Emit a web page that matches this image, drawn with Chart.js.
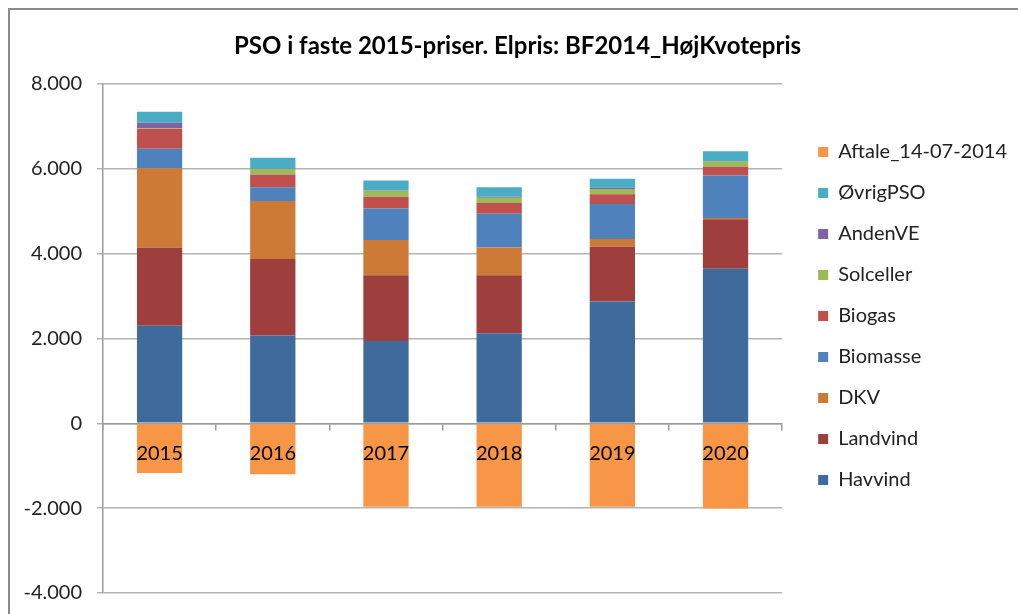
<!DOCTYPE html>
<html lang="da">
<head>
    <meta charset="UTF-8" />
    <title>PSO i faste 2015-priser</title>
    <script src="https://cdn.jsdelivr.net/npm/chart.js"></script>
    <style>
        body { margin: 0; background: #fff; }
        #wrap { position: relative; width: 1018px; height: 614px; }
        /* grå ramme om diagrammet (kun venstre og top ses i udsnittet) */
        #ramme {
            position: absolute; left: 8px; top: 8px; width: 1100px; height: 700px;
            border-left: 2px solid #8a8a8a; border-top: 2px solid #8a8a8a;
            pointer-events: none;
        }
    </style>
</head>
<body>
<div id="wrap">
    <canvas id="chartPSO"></canvas>
    <div id="ramme"></div>
</div>

<script>
    // Data (mio. kr.)
    const aar = ['2015', '2016', '2017', '2018', '2019', '2020'];
    const havvind   = [2300, 2070, 1940, 2120, 2870, 3640];
    const landvind  = [1840, 1800, 1550, 1370, 1290, 1170];
    const dkv       = [1870, 1370,  830,  650,  180,   30];
    const biomasse  = [ 460,  320,  740,  800,  830, 1000];
    const biogas    = [ 470,  300,  280,  250,  230,  205];
    const solceller = [  10,  130,  140,  125,  120,  125];
    const andenVE   = [ 130,   10,   10,   25,   30,   10];
    const oevrigPSO = [ 260,  260,  230,  220,  210,  230];
    const aftale    = [-1170, -1200, -1970, -1970, -1970, -2010];

    const yTicks = [-4000, -2000, 0, 2000, 4000, 6000, 8000];

    const fontFam = 'Lato, "Open Sans", sans-serif';

    function tal(v) {
        // dansk tusindtalsseparator
        const s = Math.abs(v).toString().replace(/\B(?=(\d{3})+(?!\d))/g, '.');
        return (v < 0 ? '-' : '') + s;
    }

    new Chart(document.getElementById('chartPSO'), {
        type: 'bar',
        data: {
            labels: aar,
            datasets: [
                { label: 'Havvind', data: havvind, backgroundColor: '#3f6a9c' },
                { label: 'Landvind', data: landvind, backgroundColor: '#9e3f3d' },
                { label: 'DKV', data: dkv, backgroundColor: '#cc7a36' },
                { label: 'Biomasse', data: biomasse, backgroundColor: '#4f81bd' },
                { label: 'Biogas', data: biogas, backgroundColor: '#c0504d' },
                { label: 'Solceller', data: solceller, backgroundColor: '#9bbb59' },
                { label: 'AndenVE', data: andenVE, backgroundColor: '#8064a2' },
                { label: 'ØvrigPSO', data: oevrigPSO, backgroundColor: '#4bacc6' },
                { label: 'Aftale_14-07-2014', data: aftale, backgroundColor: '#f79646' }
            ]
        },
        options: {
            responsive: true,
            maintainAspectRatio: false,
            animation: false,
            categoryPercentage: 1,
            barPercentage: 0.4,
            layout: { padding: { left: 18, right: 1, top: 0, bottom: 21 } },
            scales: {
                x: {
                    stacked: true,
                    position: { y: 0 },
                    grid: { drawOnChartArea: false, tickLength: 6, color: '#9a9a9a', lineWidth: 1.5 },
                    border: { display: true, color: '#9a9a9a', width: 1.5 },
                    // årstal tegnes oven på de orange søjler
                    ticks: { z: 1, color: '#000', padding: 12, font: { family: fontFam, size: 20 } }
                },
                y: {
                    stacked: true,
                    min: -4000,
                    max: 8000,
                    afterFit(scale) {
                        scale.width = 85;
                        scale.paddingBottom = 10; // plottet skal helt ned til -4.000
                    },
                    afterBuildTicks(scale) { scale.ticks = yTicks.map(v => ({ value: v })); },
                    grid: { color: '#b4b4b4', lineWidth: 1.5, tickLength: 6 },
                    border: { color: '#9a9a9a', width: 1.5 },
                    ticks: {
                        color: '#222',
                        padding: 15,
                        font: { family: fontFam, size: 20 },
                        callback: (v) => tal(v)
                    }
                },
                // usynlig akse, kun for afstand mellem plot og forklaring
                spacer: {
                    type: 'linear',
                    position: 'right',
                    display: true,
                    afterFit(scale) { scale.width = 15; },
                    grid: { display: false },
                    border: { display: false },
                    ticks: { display: false }
                }
            },
            plugins: {
                title: {
                    display: true,
                    text: 'PSO i faste 2015-priser. Elpris: BF2014_HøjKvotepris',
                    color: '#000',
                    font: { family: fontFam, size: 24, weight: 'bold' },
                    padding: { top: 32, bottom: 23 }
                },
                legend: {
                    position: 'right',
                    reverse: true,
                    maxWidth: 260,
                    title: { display: true, text: '', font: { size: 10 }, padding: { top: 27, bottom: 0 } },
                    labels: {
                        boxWidth: 10,
                        boxHeight: 10,
                        padding: 21,
                        color: '#222',
                        font: { family: fontFam, size: 20 }
                    }
                },
                tooltip: { enabled: false }
            }
        }
    });
</script>
</body>
</html>
